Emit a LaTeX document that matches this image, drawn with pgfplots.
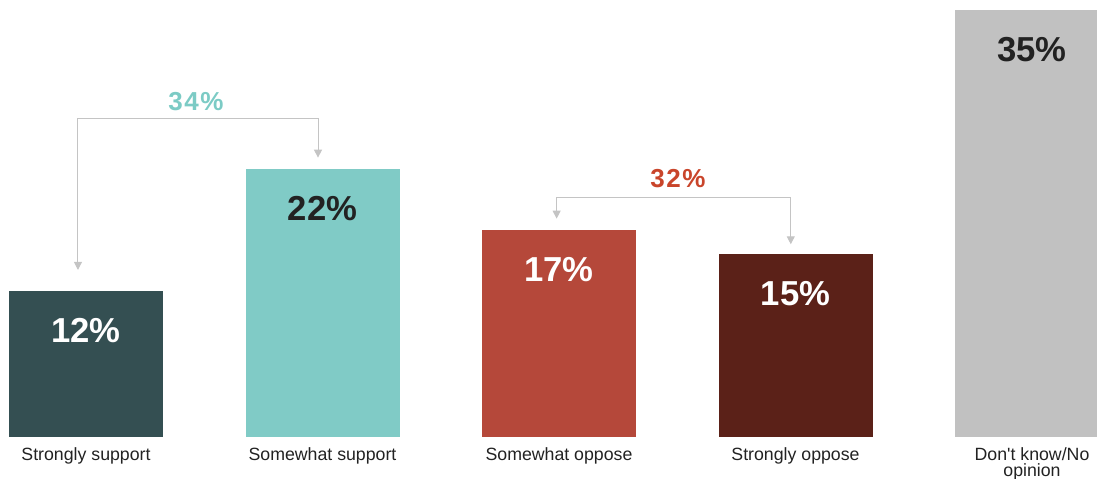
\documentclass[border=0pt]{standalone}
\usepackage{pgfplots}
\pgfplotsset{compat=1.18}
\usepackage{fontspec}
\setmainfont{Liberation Sans}[Ligatures=TeXOff]
\usetikzlibrary{arrows.meta}
\definecolor{cA}{HTML}{344F52}
\definecolor{cB}{HTML}{80CBC6}
\definecolor{cC}{HTML}{B5483A}
\definecolor{cD}{HTML}{5B2118}
\definecolor{cE}{HTML}{C1C1C1}
\definecolor{lblB}{HTML}{7CCBC5}
\definecolor{lblC}{HTML}{C9452B}
\definecolor{arr}{HTML}{C4C4C4}
\definecolor{dk}{HTML}{222222}
\begin{document}
\begin{tikzpicture}
\begin{axis}[
  scale only axis=true,
  width=822.75pt, height=327.75pt,
  xmin=-0.3636, xmax=4.2748,
  ymin=0, ymax=35.82,
  axis line style={draw=none},
  tick style={draw=none},
  ytick=\empty,
  xtick={0,1,2,3,4},
  xticklabels={Strongly support,Somewhat support,Somewhat oppose,Strongly oppose,{Don't know/No\\opinion}},
  xticklabel style={font=\fontsize{13.3}{12}\selectfont, align=center, anchor=north, yshift=0pt, text=dk},
  ybar, bar width=115.5pt, bar shift=0pt,
  /pgf/number format/assume math mode=true,
  nodes near coords={\pgfmathprintnumber{\pgfplotspointmeta}\%},
  nodes near coords style={anchor=center, yshift=-30pt, font=\fontsize{26}{26}\selectfont\bfseries},
]
\addplot[fill=cA, draw=none, nodes near coords style={text=white}] coordinates {(0,12)};
\addplot[fill=cB, draw=none, nodes near coords style={text=dk}] coordinates {(1,22)};
\addplot[fill=cC, draw=none, nodes near coords style={text=white}] coordinates {(2,17)};
\addplot[fill=cD, draw=none, nodes near coords style={text=white}] coordinates {(3,15)};
\addplot[fill=cE, draw=none, nodes near coords style={text=dk}] coordinates {(4,35)};
\draw[arr, line width=0.75pt, {Triangle[width=6pt,length=6pt]}-{Triangle[width=6pt,length=6pt]}]
  (axis cs:-0.034,13.7) |- (axis cs:0.981,26.07) -- (axis cs:0.981,22.9);
\draw[arr, line width=0.75pt, {Triangle[width=6pt,length=6pt]}-{Triangle[width=6pt,length=6pt]}]
  (axis cs:1.99,17.9) |- (axis cs:2.98,19.67) -- (axis cs:2.98,15.8);
\node[text=lblB, font=\fontsize{19.5}{19.5}\selectfont\bfseries\addfontfeature{LetterSpace=6}] at (axis cs:0.465,27.5) {34\%};
\node[text=lblC, font=\fontsize{19.5}{19.5}\selectfont\bfseries\addfontfeature{LetterSpace=6}] at (axis cs:2.503,21.2) {32\%};
\end{axis}
\pgfresetboundingbox
\path ([yshift=-30.75pt]current axis.south west) rectangle (current axis.north east);
\end{tikzpicture}
\end{document}
